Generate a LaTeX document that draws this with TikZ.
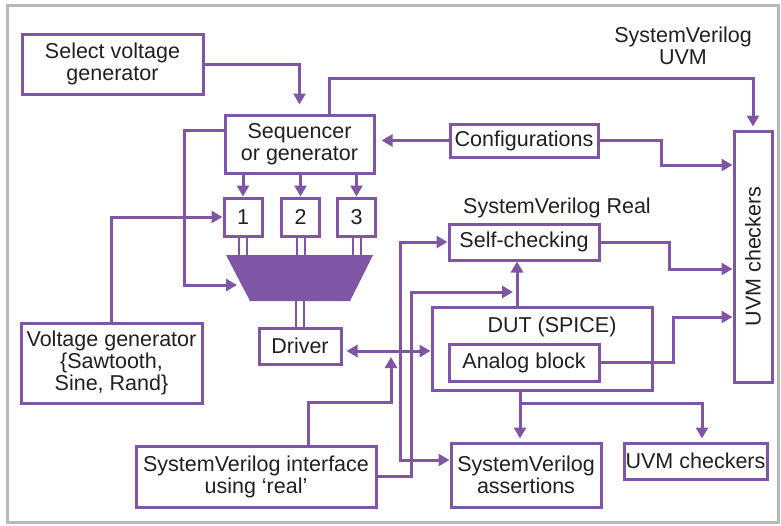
\documentclass[tikz,border=0pt]{standalone}
\usepackage{fontspec}
\setmainfont{Liberation Sans}
\usetikzlibrary{arrows.meta}
\definecolor{vio}{RGB}{127,86,165}
\definecolor{ink}{RGB}{35,31,32}

\begin{document}
\begin{tikzpicture}[x=1pt, y=-1pt,
    font=\fontsize{21.5}{22}\selectfont, text=ink,
  box/.style = {draw=vio, line width=3pt, fill=white, align=center, inner sep=0pt},
  lbl/.style = {align=center},
  arr/.style = {draw=vio, line width=3pt, -{Triangle[length=11pt,width=12pt]}},
 arrs/.style = {draw=vio, line width=3pt,
                {Triangle[length=11pt,width=12pt]}-{Triangle[length=11pt,width=12pt]}},
  dbl/.style = {draw=vio, line width=2pt}
                    ]
\useasboundingbox (0,0) rectangle (781,525);
\draw[black!28, line width=3pt] (7,5) rectangle (778,522);

% stimulus side
\node (sel)  [box, minimum width=181pt, minimum height=60pt] at (112.5,64) {Select voltage\\generator};
\node (seq)  [box, minimum width=149pt, minimum height=58pt] at (299.5,144) {Sequencer\\or generator};
\node (conf) [box, minimum width=148pt, minimum height=33pt] at (524,140.5) {Configurations};
\foreach \n/\x in {1/243, 2/300.5, 3/356.5}
    \node (b\n) [box, minimum size=38pt] at (\x,217) {\n};
\fill[vio] (226,255) -- (373,255) -- (350,301) -- (250,301) -- cycle;
\coordinate (muxT) at (300,255);
\coordinate (muxB) at (300,301);
\coordinate (muxL) at (241,285);
\node (drv)  [box, minimum width=82pt, minimum height=36pt] at (300,346) {Driver};
\node (volt) [box, minimum width=181pt, minimum height=80pt] at (111.5,363) {Voltage generator\\\{Sawtooth,\\Sine, Rand\}};
\node (svi)  [box, minimum width=240pt, minimum height=61pt] at (256,476.5) {SystemVerilog interface\\using ‘real’};

% checking side
\node (dut)  [box, minimum width=220pt, minimum height=83pt] at (542,348.5) {};
\node [lbl] at (552,327) {DUT (SPICE)};
\node (ana)  [box, minimum width=150pt, minimum height=37pt] at (524,362.5) {Analog block};
\node (self) [box, minimum width=150pt, minimum height=36pt] at (524,242) {Self-checking};
\node [lbl] at (557,208) {SystemVerilog Real};
\node (sva)  [box, minimum width=150pt, minimum height=64pt] at (526,475) {SystemVerilog\\assertions};
\node (uvmb) [box, minimum width=143pt, minimum height=36pt] at (695.5,461) {UVM checkers};
\node (uvm)  [box, minimum width=38pt, minimum height=251pt] at (753,256.5) {};
\node [rotate=90] at (uvm) {UVM checkers};
\node [lbl] at (683,46) {SystemVerilog\\UVM};

% connectors
\draw[arr, shorten >=9pt] (sel) -| (seq);
\draw[arr, shorten >=3pt] ([xshift=29.5pt]seq.north) -- ([xshift=29.5pt]seq.north |- 0,78) -| (uvm.north);
\draw[arr, shorten >=6pt] (conf.west) -- (conf.west -| seq.east);
\draw[arr] (conf.east) -- ++(62,0) |- (uvm.west |- 0,165);
\foreach \b in {b1,b2,b3} {
    \draw[arr] (\b.north |- seq.south) -- (\b.north);
    \foreach \d in {-4,4}
        \draw[dbl] ([xshift=\d pt]\b.south) -- ([xshift=\d pt]\b.south |- muxT);
}
\draw[arr, shorten >=4pt] ([yshift=14pt]seq.west) -- ++(-39,0) |- (muxL);
\draw[arr] (volt.north) |- (b1.west);
\foreach \d in {-4,4}
    \draw[dbl] ([xshift=\d pt]muxB) -- ([xshift=\d pt]drv.north);
\draw[arrs, shorten <=4pt] ([yshift=-5pt]drv.east) -- ([yshift=-5pt]drv.east -| dut.west);
\coordinate (tap) at (391,357);
\draw[arr] ([xshift=52pt]svi.north) |- (tap |- 0,402) -- (tap);
\coordinate (dutup) at ([xshift=-7pt]self.south |- dut.north);
\draw[arr] (dutup) -- ([xshift=-7pt]self.south);
\draw[arr] (svi.east) -- ++(34,0) |- ([xshift=-4pt]dutup |- 0,292);
\draw[arrs] (self.west) -- ++(-47,0) |- ([yshift=15pt]sva.west);
\draw[arr] (self.east) -- ++(69,0) |- (uvm.west |- 0,269);
\draw[arr] (ana.east) -- ++(73,0) |- (uvm.west |- 0,317);
\coordinate (br) at ([xshift=-22pt]dut.south |- 0,403);
\draw[arr, shorten >=3pt] ([xshift=-22pt]dut.south) -- (br) -- (br |- sva.north);
\draw[arr, shorten >=3pt] (br) -| ([xshift=6.5pt]uvmb.north);
\end{tikzpicture}
\end{document}
